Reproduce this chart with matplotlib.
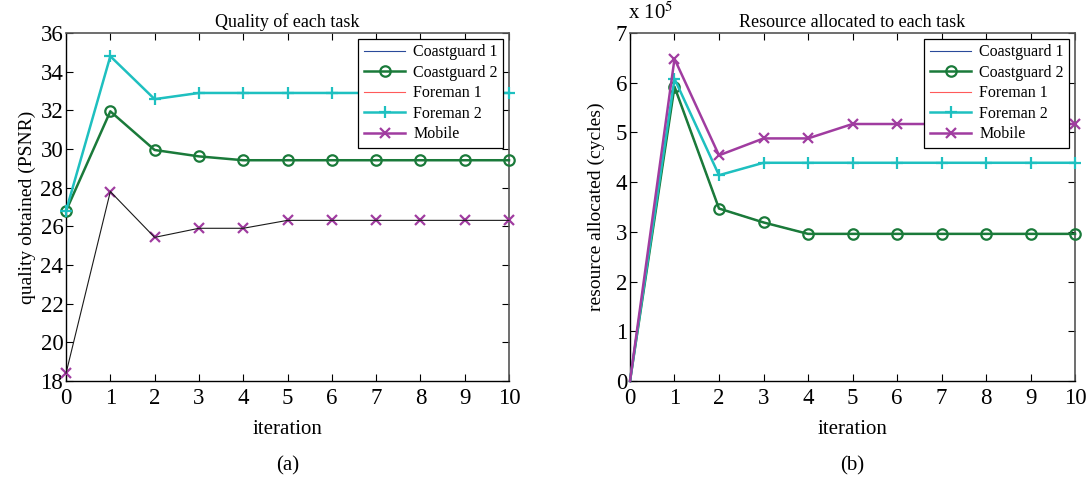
import matplotlib
matplotlib.use("Agg")
import matplotlib.pyplot as plt
from matplotlib.lines import Line2D

plt.rcParams['font.family'] = ['Liberation Serif', 'DejaVu Serif']
plt.rcParams['mathtext.fontset'] = 'stix'

iterations = list(range(11))
series_names = ["Coastguard 1", "Coastguard 2", "Foreman 1", "Foreman 2", "Mobile"]

# (a) quality (PSNR)
quality_coastguard1 = [18.4, 27.8, 25.43, 25.9, 25.9, 26.31, 26.31, 26.31, 26.31, 26.31, 26.31]
quality_coastguard2 = [26.8, 31.95, 29.95, 29.62, 29.42, 29.42, 29.42, 29.42, 29.42, 29.42, 29.42]
quality_foreman1 = [26.8, 34.8, 32.58, 32.9, 32.9, 32.9, 32.9, 32.9, 32.9, 32.9, 32.9]
quality_foreman2 = [26.8, 34.8, 32.58, 32.9, 32.9, 32.9, 32.9, 32.9, 32.9, 32.9, 32.9]
quality_mobile = [18.4, 27.8, 25.43, 25.9, 25.9, 26.31, 26.31, 26.31, 26.31, 26.31, 26.31]

# (b) resource (x 1e5 cycles)
resource_coastguard1 = [0.0, 5.92, 3.47, 3.19, 2.96, 2.96, 2.96, 2.96, 2.96, 2.96, 2.96]
resource_coastguard2 = [0.0, 5.92, 3.47, 3.19, 2.96, 2.96, 2.96, 2.96, 2.96, 2.96, 2.96]
resource_foreman1 = [0.0, 6.08, 4.14, 4.39, 4.39, 4.39, 4.39, 4.39, 4.39, 4.39, 4.39]
resource_foreman2 = [0.0, 6.08, 4.14, 4.39, 4.39, 4.39, 4.39, 4.39, 4.39, 4.39, 4.39]
resource_mobile = [0.0, 6.48, 4.54, 4.88, 4.88, 5.17, 5.17, 5.17, 5.17, 5.17, 5.17]

C_CG1 = '#1a1a1a'
C_CG1_LEG = '#2a4a9a'
C_CG2 = '#1a7a3a'
C_FM1 = '#ff5a5a'
C_FM2 = '#1ec0c0'
C_MOB = '#a03ca0'

fig = plt.figure(figsize=(10.86, 4.78), dpi=100)
ax1 = fig.add_axes([0.0608, 0.2029, 0.4079, 0.728])
ax2 = fig.add_axes([0.5801, 0.2029, 0.4098, 0.728])

FS_TICK = 16.5
FS_TITLE = 13
FS_XLAB = 15
FS_YLAB = 14
FS_LEG = 11.5


def style_axes(ax):
    ax.tick_params(direction='in', top=True, right=True, length=5, width=0.8,
                   labelsize=FS_TICK)
    ax.tick_params(axis='x', pad=5)
    ax.tick_params(axis='y', pad=2)
    for s in ['left', 'bottom']:
        ax.spines[s].set_color('black')
        ax.spines[s].set_linewidth(1.0)
    for s in ['top', 'right']:
        ax.spines[s].set_color('#555555')
        ax.spines[s].set_linewidth(1.2)
    ax.set_xlim(0, 10)
    ax.set_xticks(iterations)


def legend_handles():
    return [
        Line2D([], [], color=C_CG1_LEG, lw=0.8),
        Line2D([], [], color=C_CG2, lw=1.8, marker='o', mfc='none', ms=7.5, mew=1.6),
        Line2D([], [], color=C_FM1, lw=0.8),
        Line2D([], [], color=C_FM2, lw=1.8, marker='+', ms=9, mew=1.6),
        Line2D([], [], color=C_MOB, lw=1.8, marker='x', ms=7, mew=1.6),
    ]


def add_legend(ax):
    leg = ax.legend(legend_handles(), series_names, loc='upper right', fontsize=FS_LEG,
                    frameon=True, fancybox=False, edgecolor='black', framealpha=1,
                    handlelength=2.6, borderpad=0.35, labelspacing=0.28, handletextpad=0.5,
                    borderaxespad=0.35)
    leg.get_frame().set_linewidth(0.9)
    return leg


# Panel (a)
ax1.plot(iterations, quality_mobile, color=C_MOB, ls='', marker='x', ms=7, mew=1.6, clip_on=False, zorder=3)
ax1.plot(iterations, quality_coastguard1, color=C_CG1, lw=0.8, clip_on=False, zorder=4)
ax1.plot(iterations, quality_coastguard2, color=C_CG2, lw=1.8, marker='o', mfc='none', ms=7.5, mew=1.6, clip_on=False, zorder=3)
ax1.plot(iterations, quality_foreman1, color=C_FM1, lw=0.8, clip_on=False, zorder=2)
ax1.plot(iterations, quality_foreman2, color=C_FM2, lw=1.8, marker='+', ms=9, mew=1.6, clip_on=False, zorder=3)
style_axes(ax1)
ax1.set_ylim(18, 36)
ax1.set_yticks(range(18, 37, 2))
ax1.set_title('Quality of each task', fontsize=FS_TITLE, pad=4)
ax1.set_xlabel('iteration', fontsize=FS_XLAB, labelpad=8)
ax1.set_ylabel('quality obtained (PSNR)', fontsize=FS_YLAB, labelpad=3)
add_legend(ax1)

# Panel (b)
mk = list(range(1, 11))
ax2.plot(iterations, resource_coastguard1, color=C_CG1, lw=0.8, clip_on=False, zorder=2)
ax2.plot(iterations, resource_coastguard2, color=C_CG2, lw=1.8, marker='o', mfc='none', ms=7.5, mew=1.6,
         markevery=mk, clip_on=False, zorder=3)
ax2.plot(iterations, resource_foreman1, color=C_FM1, lw=0.8, clip_on=False, zorder=2)
ax2.plot(iterations, resource_foreman2, color=C_FM2, lw=1.8, marker='+', ms=9, mew=1.6,
         markevery=mk, clip_on=False, zorder=3)
ax2.plot(iterations, resource_mobile, color=C_MOB, lw=1.8, marker='x', ms=7, mew=1.6,
         markevery=mk, clip_on=False, zorder=3)
style_axes(ax2)
ax2.set_ylim(0, 7)
ax2.set_yticks(range(0, 8))
ax2.set_title('Resource allocated to each task', fontsize=FS_TITLE, pad=4)
ax2.set_xlabel('iteration', fontsize=FS_XLAB, labelpad=8)
ax2.set_ylabel('resource allocated (cycles)', fontsize=FS_YLAB, labelpad=8)
ax2.text(-0.005, 1.025, r'x 10$^{5}$', transform=ax2.transAxes, fontsize=FS_TICK - 1.5, ha='left', va='bottom')
add_legend(ax2)

fig.text(ax1.get_position().x0 + ax1.get_position().width / 2, 1 - 466 / 478, '(a)',
         ha='center', va='center', fontsize=FS_XLAB)
fig.text(ax2.get_position().x0 + ax2.get_position().width / 2, 1 - 466 / 478, '(b)',
         ha='center', va='center', fontsize=FS_XLAB)

fig.savefig('out.png', dpi=100)
